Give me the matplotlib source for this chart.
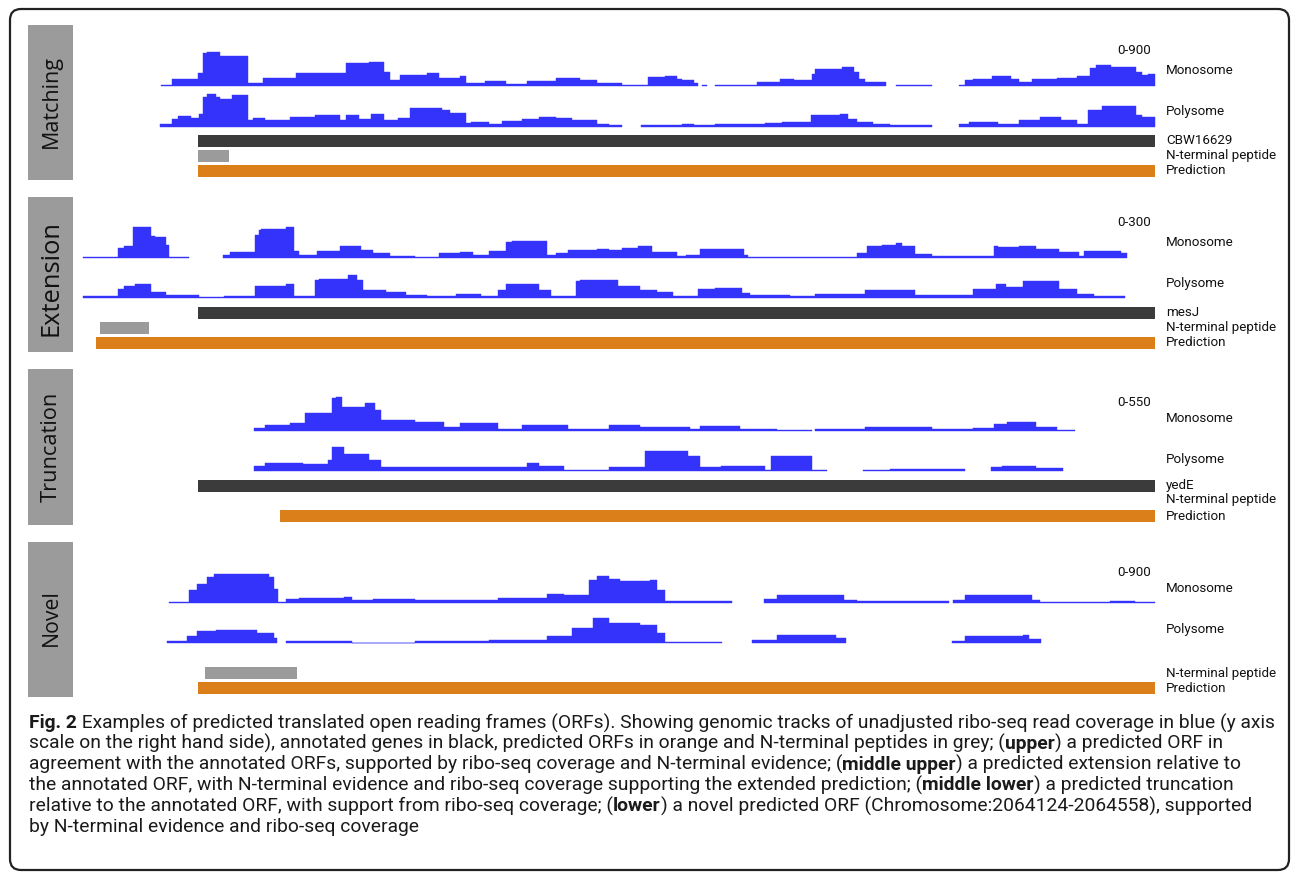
import matplotlib
matplotlib.use('Agg')
import matplotlib.pyplot as plt
from matplotlib.patches import FancyBboxPatch, Rectangle
from matplotlib import font_manager

W, H = 1293, 873

# ---- coverage data: bin edges (position along track) and read counts per bin ----
# Matching
match_mono_x = [
    [161, 172, 198, 203, 207, 220, 248, 263, 296, 346, 369, 384, 390, 400, 427, 439, 460, 466, 485, 506,
     527, 556, 580, 597, 622, 648, 665, 677, 682, 694, 698],
    [702, 707],
    [715, 757, 780, 794, 812, 815, 842, 854, 859, 865, 886],
    [896, 932],
    [959, 965, 973, 992, 1011, 1019, 1032, 1057, 1077, 1090, 1096, 1111, 1136, 1142, 1148, 1155]]
match_mono_v = [
    [20, 160, 290, 740, 765, 675, 70, 190, 290, 520, 540, 315, 135, 250, 290, 180, 225, 70, 110, 45,
     110, 180, 135, 70, 20, 200, 225, 160, 135, 70],
    [20],
    [20, 90, 160, 135, 270, 380, 430, 315, 160, 90],
    [20],
    [20, 135, 160, 225, 160, 90, 160, 180, 225, 405, 470, 430, 315, 250, 270]]
match_poly_x = [
    [160, 172, 178, 191, 199, 203, 207, 216, 220, 232, 248, 253, 265, 290, 315, 340, 346, 359, 371, 384,
     398, 410, 442, 450, 466, 471, 489, 502, 522, 539, 556, 572, 597, 609, 622],
    [641, 682, 694, 715, 765, 782, 811, 840, 848, 857, 873, 890, 932],
    [959, 969, 998, 1019, 1040, 1061, 1077, 1088, 1102, 1136, 1142, 1155]]
match_poly_v = [
    [70, 180, 250, 200, 290, 675, 740, 675, 630, 720, 160, 200, 160, 225, 270, 160, 270, 180, 290, 160,
     200, 430, 380, 315, 90, 110, 70, 135, 180, 225, 200, 160, 70, 45],
    [45, 70, 45, 70, 90, 110, 270, 290, 180, 110, 70, 45],
    [70, 110, 70, 160, 225, 160, 70, 380, 470, 270, 225]]

# Extension
ext_mono_x = [
    [83, 118, 124, 133, 151, 155, 166, 169, 189],
    [223, 230, 255, 259, 261, 286, 294, 299, 317, 340, 361, 373, 390, 415, 439, 460, 473, 489, 506, 512,
     547, 556, 568, 597, 609, 622, 638, 652, 677, 686, 700, 744, 748, 857, 867, 882, 896, 902, 915, 932,
     994, 998, 1019, 1036, 1059, 1079, 1084, 1121, 1127]]
ext_mono_v = [
    [11, 75, 90, 232, 165, 158, 98, 8],
    [22, 45, 172, 210, 218, 232, 52, 22, 52, 90, 60, 38, 15, 8, 38, 45, 22, 52, 120, 128,
     22, 38, 60, 68, 60, 75, 90, 45, 15, 22, 68, 22, 8, 38, 90, 98, 112, 90, 30, 15,
     90, 82, 90, 68, 45, 15, 52, 38]]
ext_poly_x = [
    [83, 118, 124, 135, 151, 166, 199, 224, 255, 286, 294, 315, 319, 348, 357, 363, 386, 406, 427, 456,
     481, 498, 506, 539, 551, 576, 580, 618, 640, 657, 673, 698, 715, 742, 750, 790, 815, 865, 915, 973,
     996, 1006, 1023, 1059, 1077, 1094, 1125]]
ext_poly_v = [
    [15, 68, 90, 105, 45, 22, 8, 15, 90, 105, 15, 135, 142, 172, 135, 60, 45, 22, 15, 30,
     15, 60, 105, 60, 15, 128, 135, 90, 60, 45, 15, 68, 75, 38, 22, 15, 30, 60, 22, 68,
     105, 82, 128, 68, 30, 15]]

# Truncation
trunc_mono_x = [
    [254, 265, 290, 305, 332, 336, 342, 365, 375, 381, 415, 444, 460, 498, 522, 568, 609, 640, 690, 700,
     740, 777, 812],
    [815, 865, 932, 973, 994, 1007, 1036, 1057, 1075]]
trunc_mono_v = [
    [41, 82, 110, 248, 454, 468, 330, 385, 289, 151, 124, 55, 110, 28, 82, 28, 82, 55, 28, 69, 28, 14],
    [28, 55, 28, 41, 96, 124, 55, 14]]
trunc_poly_x = [
    [254, 265, 303, 328, 332, 344, 369, 381, 527, 539, 564, 609, 645, 688, 700, 721, 765, 771, 812, 827],
    [863, 890, 898, 965],
    [991, 1002, 1036, 1063]]
trunc_poly_v = [
    [69, 110, 96, 151, 330, 234, 151, 55, 110, 69, 14, 55, 275, 206, 55, 69, 14, 206, 14],
    [14, 34, 28],
    [55, 69, 41]]

# Novel
novel_mono_x = [
    [169, 189, 197, 207, 214, 269, 274, 278, 286, 299, 344, 352, 373, 415, 498, 547, 564, 589, 597, 609,
     620, 650, 657, 665, 732],
    [764, 777, 844, 857, 949],
    [953, 965, 1032, 1040, 1110, 1135, 1155]]
novel_mono_v = [
    [22, 292, 428, 585, 652, 585, 315, 22, 90, 112, 135, 68, 90, 68, 112, 202, 180, 518, 608, 540,
     495, 518, 292, 45],
    [90, 180, 68, 45],
    [68, 180, 68, 22, 45, 22]]
novel_poly_x = [
    [167, 187, 197, 216, 257, 274, 277],
    [286, 352, 415, 489, 547, 572, 593, 609, 640, 657, 665, 722],
    [752, 777, 836, 846],
    [952, 965, 1023, 1029, 1041]]
novel_poly_v = [
    [45, 158, 270, 292, 225, 112],
    [45, 11, 45, 68, 158, 338, 562, 450, 405, 225, 22],
    [68, 180, 112],
    [45, 158, 180, 90]]

panel_names = ['Matching', 'Extension', 'Truncation', 'Novel']
range_max = [900, 300, 550, 900]
gene_names = ['CBW16629', 'mesJ', 'yedE', None]
gene_span = [(198, 1155), (198, 1155), (198, 1155), None]
peptide_span = [(198, 229), (100, 149), None, (205, 297)]
pred_span = [(198, 1155), (96, 1155), (280, 1155), (198, 1155)]
mono_data = [(match_mono_x, match_mono_v), (ext_mono_x, ext_mono_v),
             (trunc_mono_x, trunc_mono_v), (novel_mono_x, novel_mono_v)]
poly_data = [(match_poly_x, match_poly_v), (ext_poly_x, ext_poly_v),
             (trunc_poly_x, trunc_poly_v), (novel_poly_x, novel_poly_v)]

caption = [
    [("Fig. 2", True), (" Examples of predicted translated open reading frames (ORFs). Showing genomic tracks "
                        "of unadjusted ribo-seq read coverage in blue (y axis", False)],
    [("scale on the right hand side), annotated genes in black, predicted ORFs in orange and N-terminal "
      "peptides in grey; (", False), ("upper", True), (") a predicted ORF in", False)],
    [("agreement with the annotated ORFs, supported by ribo-seq coverage and N-terminal evidence; (", False),
     ("middle upper", True), (") a predicted extension relative to", False)],
    [("the annotated ORF, with N-terminal evidence and ribo-seq coverage supporting the extended prediction; (",
      False), ("middle lower", True), (") a predicted truncation", False)],
    [("relative to the annotated ORF, with support from ribo-seq coverage; (", False), ("lower", True),
     (") a novel predicted ORF (Chromosome:2064124-2064558), supported", False)],
    [("by N-terminal evidence and ribo-seq coverage", False)],
]

# ---- layout (pixels from top) ----
box_y = [(25, 180), (197, 352), (369, 525), (542, 697)]
label_cy = [101, 278, 447, 618]
label_len = [93, 117, 110, 57]
mono_base = [86, 258.3, 431, 602.7]
poly_base = [126.7, 298.3, 471, 643.3]
gene_y = [135, 307, 480, None]
pep_y = [150, 322, None, 667]
pred_y = [165, 337, 510, 682]
bar_h = 11.5
lab_y = {'scale': [50, 222, 402, 573], 'mono': [71, 243, 419, 589], 'poly': [111, 284, 459, 629],
         'gene': [140, 312, 485, None], 'pep': [155, 327, 500, 673], 'pred': [171, 343, 516, 689]}
track_h = 40

BLUE = '#3333fc'
DARK = '#3b3b3b'
GREY = '#9b9b9b'
ORANGE = '#db7f1b'


def pick_font(names):
    for n in names:
        try:
            font_manager.findfont(font_manager.FontProperties(family=n), fallback_to_default=False)
            return n
        except ValueError:
            pass
    return 'DejaVu Sans'


cond_font = pick_font(['Liberation Sans Narrow', 'Roboto', 'Lato'])
side_font = pick_font(['Open Sans', 'DejaVu Sans'])

fig = plt.figure(figsize=(W / 100, H / 100), dpi=100)
rend = fig.canvas.get_renderer()
base = fig.add_axes([0, 0, 1, 1])
base.set_xlim(0, W)
base.set_ylim(H, 0)
base.axis('off')

# outer frame
base.add_patch(FancyBboxPatch((10, 9), W - 14, H - 12, boxstyle='round,pad=0,rounding_size=11',
                              fc='none', ec='#222222', lw=1.6))

# right label font size: fit "N-terminal peptide" to its width
t = base.text(0, 0, 'N-terminal peptide', family=cond_font, fontsize=10)
lab_size = 10 * 110 / t.get_window_extent(rend).width
t.remove()

for i in range(4):
    y0, y1 = box_y[i]
    base.add_patch(Rectangle((28, y0), 44.5, y1 - y0, fc=GREY, ec='none'))
    t = base.text(51, label_cy[i], panel_names[i], rotation=90, ha='center', va='center',
                  fontsize=14, family=side_font, color='#111111')
    t.set_fontsize(14 * label_len[i] / t.get_window_extent(rend).height)

    if gene_span[i] is not None:
        a, b = gene_span[i]
        base.add_patch(Rectangle((a, gene_y[i]), b - a, bar_h, fc=DARK, ec='none'))
    if peptide_span[i] is not None:
        a, b = peptide_span[i]
        base.add_patch(Rectangle((a, pep_y[i]), b - a, bar_h, fc=GREY, ec='none'))
    a, b = pred_span[i]
    base.add_patch(Rectangle((a, pred_y[i]), b - a, bar_h, fc=ORANGE, ec='none'))

    base.text(1151, lab_y['scale'][i], '0-%d' % range_max[i], ha='right', va='center',
              family=cond_font, fontsize=lab_size, color='#111111')
    base.text(1166, lab_y['mono'][i], 'Monosome', va='center', family=cond_font, fontsize=lab_size, color='#111111')
    base.text(1166, lab_y['poly'][i], 'Polysome', va='center', family=cond_font, fontsize=lab_size, color='#111111')
    if gene_names[i] is not None:
        base.text(1166, lab_y['gene'][i], gene_names[i], va='center', family=cond_font, fontsize=lab_size,
                  color='#111111')
    base.text(1166, lab_y['pep'][i], 'N-terminal peptide', va='center', family=cond_font, fontsize=lab_size,
              color='#111111')
    base.text(1166, lab_y['pred'][i], 'Prediction', va='center', family=cond_font, fontsize=lab_size,
              color='#111111')

    # coverage tracks
    for baseline, (xs, vs) in ((mono_base[i], mono_data[i]), (poly_base[i], poly_data[i])):
        ax = fig.add_axes([0, 1 - baseline / H, 1, track_h / H])
        ax.set_xlim(0, W)
        ax.set_ylim(0, range_max[i])
        ax.axis('off')
        for sx, sv in zip(xs, vs):
            ax.fill_between(sx, sv + [sv[-1]], step='post', color=BLUE, lw=0.3, ec=BLUE)

# caption, fit first line to the frame width
cap_x = 29
cap_y0 = 723
cap_dy = 20.8


def draw_line(y, segs, size):
    x = cap_x
    objs = []
    for s, bold in segs:
        tt = base.text(x, y, s, fontsize=size, fontweight='bold' if bold else 'normal', family=cond_font,
                       va='center', ha='left', color='#1a1a1a')
        x += tt.get_window_extent(rend).width
        objs.append(tt)
    return x - cap_x, objs


cap_size = 12
for _ in range(3):
    w1, objs = draw_line(cap_y0, caption[0], cap_size)
    for o in objs:
        o.remove()
    cap_size = cap_size * 1246 / w1
for k, segs in enumerate(caption):
    draw_line(cap_y0 + k * cap_dy, segs, cap_size)

fig.savefig('out.png', dpi=100)
